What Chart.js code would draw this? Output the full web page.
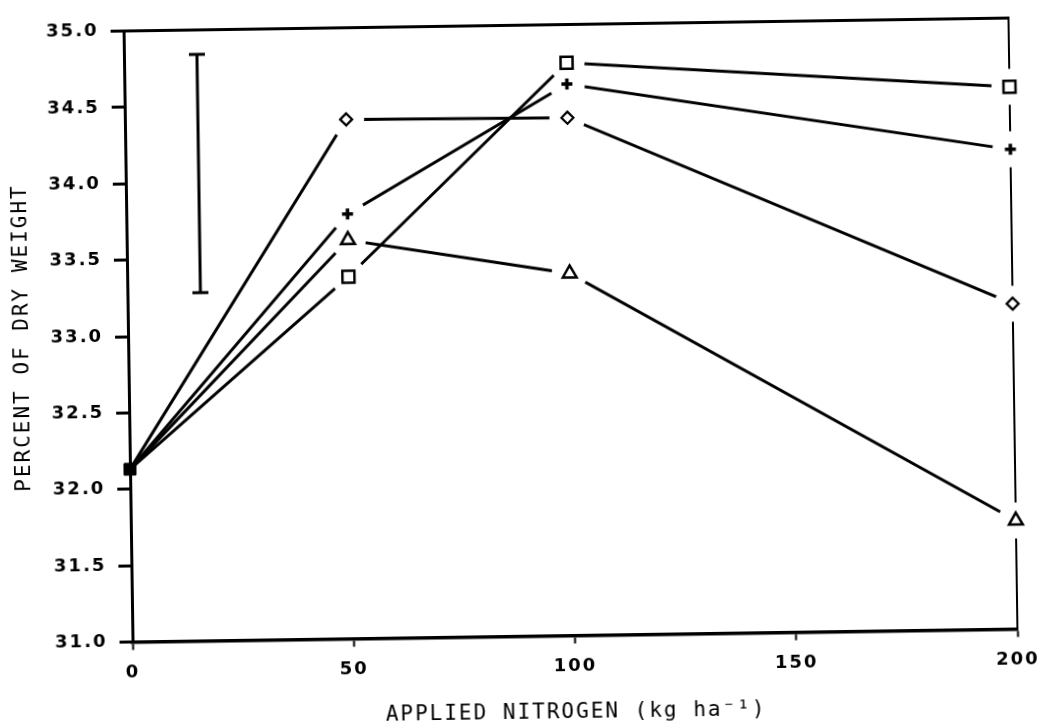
<!DOCTYPE html>
<html>
<head>
<meta charset="utf-8">
<script src="https://cdn.jsdelivr.net/npm/chart.js@4.4.1/dist/chart.umd.min.js"></script>
<style>
  html, body { margin: 0; padding: 0; background: #fff; }
  #wrap { width: 1045px; height: 728px; overflow: hidden; }
  /* the scanned figure sits slightly tilted */
  #chart { display: block; transform: rotate(-0.84deg); transform-origin: 570.75px 330px; }
</style>
</head>
<body>
<div id="wrap"><canvas id="chart" width="1045" height="728"></canvas></div>
<script>
// applied nitrogen (kg/ha)
const nitrogen = [0, 50, 100, 200];

// percent of dry weight, one list per treatment
const squareVals = [32.13, 33.37, 34.75, 34.55];
const plusVals = [32.13, 33.78, 34.61, 34.14];
const diamondVals = [32.13, 34.40, 34.39, 33.13];
const triangleVals = [32.13, 33.61, 33.37, 31.71];

// LSD bar (x position, low/high)
const lsdX = 16.5;
const lsdRange = [33.28, 34.84];

// axis ticks
const xTicks = [0, 50, 100, 150, 200];
const yTicks = [31.0, 31.5, 32.0, 32.5, 33.0, 33.5, 34.0, 34.5, 35.0];

const tickFont = { family: 'DejaVu Sans', size: 18, weight: 'bold' };
const titleFont = { family: 'DejaVu Sans Mono', size: 21, weight: 'normal' };

const toXY = vals => nitrogen.map((x, i) => ({ x: x, y: vals[i] }));

// marker look per treatment
const series = [
  { vals: squareVals, style: 'rect', radius: 8.5, width: 2.5 },
  { vals: plusVals, style: 'cross', radius: 5.5, width: 3.5 },
  { vals: diamondVals, style: 'rectRot', radius: 6, width: 2.2 },
  { vals: triangleVals, style: 'triangle', radius: 8, width: 2.5 }
];

const datasets = [];
series.forEach(s => {
  // the connecting line; its own points are white discs so the line
  // stops short of each marker, like the original plotter output
  datasets.push({
    data: toXY(s.vals),
    borderColor: '#000',
    borderWidth: 3,
    tension: 0,
    pointStyle: 'circle',
    pointRadius: ctx => ctx.dataIndex === 0 ? 0 : 18,
    pointBackgroundColor: '#fff',
    pointBorderColor: '#fff',
    pointBorderWidth: 0,
    clip: false,
    order: 3
  });
  // the marker itself (shared filled square at 0)
  datasets.push({
    data: toXY(s.vals),
    showLine: false,
    pointStyle: ctx => ctx.dataIndex === 0 ? 'rect' : s.style,
    pointRadius: ctx => ctx.dataIndex === 0 ? 8 : s.radius,
    pointBackgroundColor: ctx => ctx.dataIndex === 0 ? '#000' : '#fff',
    pointBorderColor: '#000',
    pointBorderWidth: ctx => ctx.dataIndex === 0 ? 1 : s.width,
    clip: false,
    order: 1
  });
});

// LSD bar
datasets.push({
  data: lsdRange.map(v => ({ x: lsdX, y: v })),
  borderColor: '#000',
  borderWidth: 3,
  pointStyle: 'line',
  pointRadius: 8,
  pointBorderColor: '#000',
  pointBorderWidth: 3,
  clip: false,
  order: 1
});

// plotter-style lettering is wide, so space the letters out a little
const spacing = {
  id: 'spacing',
  beforeDraw(chart) { chart.ctx.letterSpacing = '2px'; }
};

new Chart(document.getElementById('chart'), {
  type: 'line',
  data: { datasets },
  plugins: [spacing],
  options: {
    responsive: false,
    animation: false,
    events: [],
    layout: { padding: { left: 0, right: 32, top: 24.5, bottom: 0 } },
    plugins: { legend: { display: false }, tooltip: { enabled: false } },
    scales: {
      x: {
        type: 'linear',
        position: 'bottom',
        min: 0,
        max: 200,
        afterBuildTicks: s => { s.ticks = xTicks.map(v => ({ value: v })); },
        afterFit: s => { s.height = 92.5; },
        ticks: { font: tickFont, color: '#000', padding: 12, maxRotation: 0, autoSkip: false, callback: v => String(v) },
        grid: { drawOnChartArea: false, drawTicks: true, tickLength: 8, tickWidth: 2, tickColor: '#000' },
        border: { display: true, color: '#000', width: 3.5 },
        title: { display: true, text: 'APPLIED NITROGEN (kg ha⁻¹)', font: titleFont, color: '#000', padding: { top: 0, bottom: 2.4 } }
      },
      y: {
        type: 'linear',
        position: 'left',
        min: 31,
        max: 35,
        afterBuildTicks: s => { s.ticks = yTicks.map(v => ({ value: v })); },
        afterFit: s => { s.width = 128; },
        ticks: { font: tickFont, color: '#000', padding: 12, autoSkip: false, callback: v => v.toFixed(1) },
        grid: { drawOnChartArea: false, drawTicks: true, tickLength: 13, tickWidth: 3, tickColor: '#000' },
        border: { display: true, color: '#000', width: 3 },
        title: { display: true, text: 'PERCENT OF DRY WEIGHT', font: titleFont, color: '#000', padding: { top: 10.3, bottom: 0 } }
      },
      x2: {
        type: 'linear',
        position: 'top',
        display: true,
        min: 0,
        max: 200,
        afterFit: s => { s.height = 0; },
        ticks: { display: false },
        grid: { display: false, drawTicks: false },
        border: { display: true, color: '#000', width: 3 }
      },
      y2: {
        type: 'linear',
        position: 'right',
        display: true,
        min: 31,
        max: 35,
        afterFit: s => { s.width = 0; },
        ticks: { display: false },
        grid: { display: false, drawTicks: false },
        border: { display: true, color: '#000', width: 2 }
      }
    }
  }
});
</script>
</body>
</html>
